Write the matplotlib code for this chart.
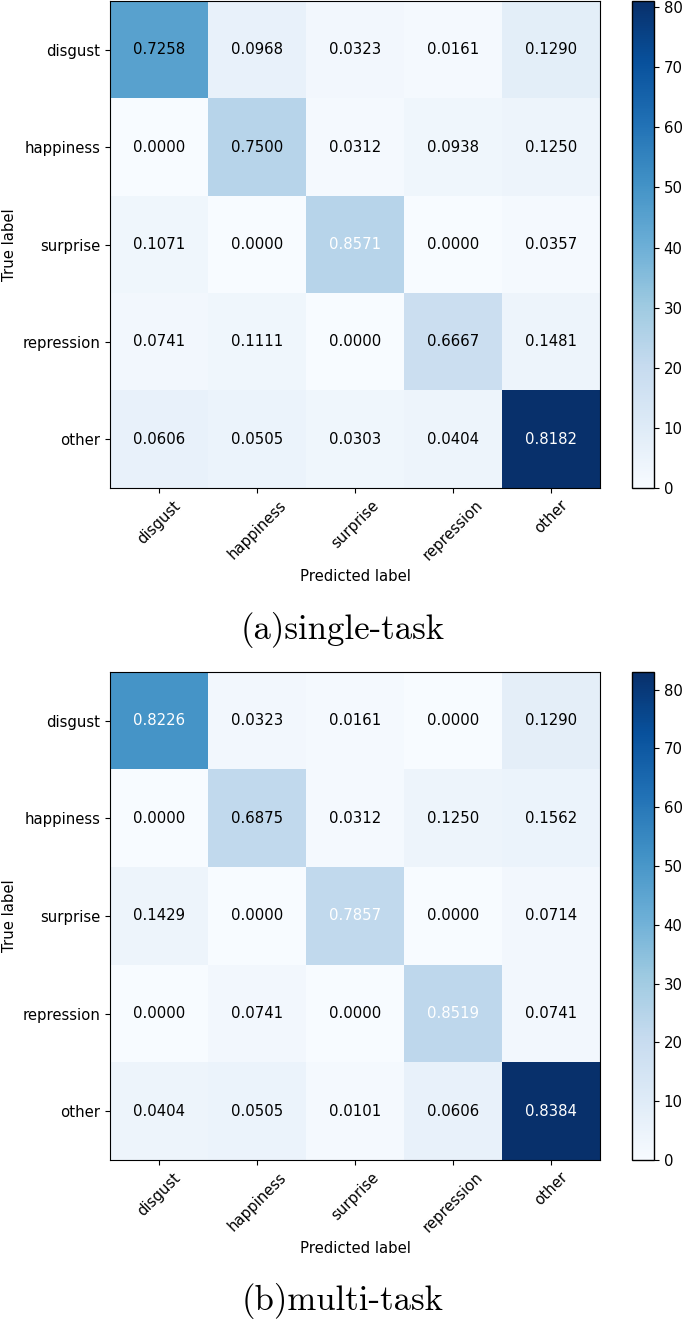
import numpy as np
import matplotlib
matplotlib.use("Agg")
import matplotlib.pyplot as plt

# class names (rows = true label, columns = predicted label)
classes = ["disgust", "happiness", "surprise", "repression", "other"]

# raw counts read back from the normalised values and the colour bar
counts_single = np.array([
    [45, 6, 2, 1, 8],
    [0, 24, 1, 3, 4],
    [3, 0, 24, 0, 1],
    [2, 3, 0, 18, 4],
    [6, 5, 3, 4, 81],
])
counts_multi = np.array([
    [51, 2, 1, 0, 8],
    [0, 22, 1, 4, 5],
    [4, 0, 22, 0, 2],
    [0, 2, 0, 23, 2],
    [4, 5, 1, 6, 83],
])

captions = ["(a)single-task", "(b)multi-task"]
cbar_ticks = [0, 10, 20, 30, 40, 50, 60, 70, 80]

W, H = 685, 1320
fig = plt.figure(figsize=(W / 100, H / 100), dpi=100)

# pixel boxes: (left, top, right, bottom)
panel_boxes = [(110, 1, 600, 488), (110, 672, 600, 1160)]
cbar_x = (632, 654)
caption_y = [630, 1301]


def px_axes(l, t, r, b):
    return fig.add_axes([l / W, 1 - b / H, (r - l) / W, (b - t) / H])


def plot_cm(counts, box, cap, cap_y):
    norm = counts / counts.sum(axis=1, keepdims=True)
    ax = px_axes(*box)
    im = ax.imshow(counts, interpolation="nearest", cmap=plt.cm.Blues, aspect="auto")
    cax = px_axes(cbar_x[0], box[1], cbar_x[1], box[3])
    cb = fig.colorbar(im, cax=cax, ticks=cbar_ticks)
    cb.ax.tick_params(labelsize=10.7)
    cb.outline.set_linewidth(1.0)

    ticks = np.arange(len(classes))
    ax.set_xticks(ticks)
    ax.set_xticklabels(classes, rotation=45, fontsize=10.7)
    ax.set_yticks(ticks)
    ax.set_yticklabels(classes, fontsize=10.7)

    thresh = 0.76
    for i in range(norm.shape[0]):
        for j in range(norm.shape[1]):
            ax.text(j, i, format(norm[i, j], ".4f"),
                    ha="center", va="center", fontsize=10.7,
                    color="white" if norm[i, j] > thresh else "black")

    ax.set_ylabel("True label", fontsize=10.7)
    ax.set_xlabel("Predicted label", fontsize=10.7)

    fig.text(0.5, 1 - cap_y / H, cap, ha="center", va="center",
             fontsize=25, family="cmr10")


for counts, box, cap, cy in zip([counts_single, counts_multi], panel_boxes, captions, caption_y):
    plot_cm(counts, box, cap, cy)

fig.savefig("out.png", dpi=100)
